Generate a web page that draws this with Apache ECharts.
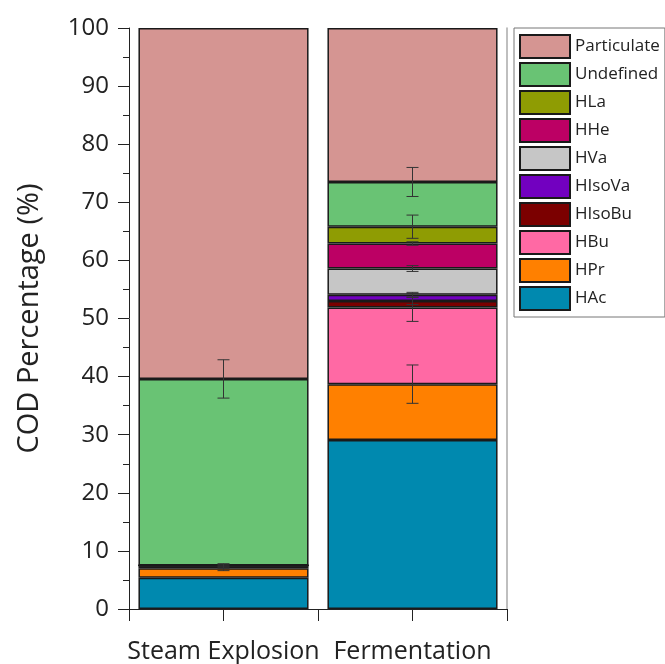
<!DOCTYPE html>
<html><head><meta charset="utf-8">
<script src="https://cdn.jsdelivr.net/npm/echarts@6/dist/echarts.min.js"></script>
<style>html,body{margin:0;padding:0;background:#fff}#c{width:665px;height:664px}</style>
</head><body><div id="c"></div>
<script>
const categories = ['Steam Explosion', 'Fermentation'];
const seriesNames = ['HAc','HPr','HBu','HIsoBu','HIsoVa','HVa','HHe','HLa','Undefined','Particulate'];
const HAc = [5.4, 29.1];
const HPr = [1.6, 9.6];
const HBu = [0.3, 13.2];
const HIsoBu = [0.2, 1.1];
const HIsoVa = [0, 1.1];
const HVa = [0, 4.5];
const HHe = [0, 4.3];
const HLa = [0, 2.9];
const Undefined = [32.1, 7.7];
const Particulate = [60.4, 26.5];
// error bar half-lengths at the top of each segment (0 = none)
const errHAc = [0, 0];
const errHPr = [0.4, 3.3];
const errHBu = [0.3, 2.4];
const errHIsoBu = [0.3, 0.6];
const errHIsoVa = [0, 0.4];
const errHVa = [0, 0.5];
const errHHe = [0, 0.3];
const errHLa = [0, 2.0];
const errUndefined = [3.3, 2.5];
const errParticulate = [0, 0];
const yTicks = [0,10,20,30,40,50,60,70,80,90,100];

const values = {HAc, HPr, HBu, HIsoBu, HIsoVa, HVa, HHe, HLa, Undefined, Particulate};
const errs = {HAc: errHAc, HPr: errHPr, HBu: errHBu, HIsoBu: errHIsoBu, HIsoVa: errHIsoVa, HVa: errHVa, HHe: errHHe, HLa: errHLa, Undefined: errUndefined, Particulate: errParticulate};
const colors = {
  HAc: '#0089AF', HPr: '#FF8000', HBu: '#FF69A4', HIsoBu: '#7B0000', HIsoVa: '#7200C0',
  HVa: '#C6C6C6', HHe: '#BC0064', HLa: '#8F9C03', Undefined: '#69C374', Particulate: '#D59592'
};

const series = [];
seriesNames.forEach(n => {
  series.push({
    name: n, type: 'bar', stack: 'total', barWidth: '90%',
    xAxisIndex: 0, yAxisIndex: 0,
    itemStyle: {color: colors[n], borderColor: '#1a1a1a', borderWidth: 1.5},
    data: values[n].slice()
  });
});
const errData = [];
const cum = [0, 0];
seriesNames.forEach(n => {
  values[n].forEach((v, i) => {
    cum[i] += v;
    if (errs[n][i] > 0) errData.push([i, cum[i], errs[n][i]]);
  });
});
series.push({
  type: 'custom', name: 'err', z: 10, silent: true,
  xAxisIndex: 0, yAxisIndex: 0,
  data: errData,
  renderItem: function (params, api) {
    const x = api.value(0), y = api.value(1), e = api.value(2);
    const hi = api.coord([x, y + e]);
    const lo = api.coord([x, y - e]);
    const w = 6;
    const st = {stroke: '#333', lineWidth: 1};
    return {type: 'group', children: [
      {type: 'line', shape: {x1: hi[0], y1: hi[1], x2: lo[0], y2: lo[1]}, style: st},
      {type: 'line', shape: {x1: hi[0]-w, y1: hi[1], x2: hi[0]+w, y2: hi[1]}, style: st},
      {type: 'line', shape: {x1: lo[0]-w, y1: lo[1], x2: lo[0]+w, y2: lo[1]}, style: st}
    ]};
  }
});

const chart = echarts.init(document.getElementById('c'));
chart.setOption({
  animation: false,
  textStyle: {fontFamily: 'Open Sans'},
  grid: {left: 129, right: 158, top: 28, bottom: 55},
  legend: {
    orient: 'vertical', left: 514, top: 28, padding: [6, 5, 6, 5],
    itemWidth: 50, itemHeight: 23, itemGap: 3,
    icon: 'rect',
    borderColor: '#777', borderWidth: 1,
    data: seriesNames.slice().reverse(),
    textStyle: {fontSize: 17, color: '#222', fontFamily: 'Open Sans'},
    selectedMode: false
  },
  xAxis: [{
    type: 'category', data: categories, boundaryGap: true,
    axisLine: {show: true, lineStyle: {color: '#222', width: 1}},
    axisTick: {show: true, length: 12, lineStyle: {color: '#222'}},
    axisLabel: {fontSize: 25, color: '#222', margin: 30, interval: 0, hideOverlap: false}
  }, {
    type: 'value', min: 0.5, max: 2.5, interval: 0.5, position: 'bottom',
    splitLine: {show: false},
    axisLine: {show: false},
    axisTick: {show: true, length: 12, lineStyle: {color: '#222'}},
    axisLabel: {show: false}
  }],
  yAxis: [{
    type: 'value', min: 0, max: 100, interval: 10,
    name: 'COD Percentage (%)', nameLocation: 'middle', nameGap: 85,
    nameTextStyle: {fontSize: 29, color: '#222'},
    splitLine: {show: false},
    axisLine: {show: true, lineStyle: {color: '#222', width: 1}},
    axisTick: {show: true, length: 11, lineStyle: {color: '#222'}},
    minorTick: {show: true, splitNumber: 2, length: 6, lineStyle: {color: '#222'}},
    axisLabel: {fontSize: 24, color: '#222', margin: 20, formatter: v => yTicks.includes(v) ? String(v) : ''}
  }, {
    type: 'value', min: 0, max: 100, position: 'right',
    splitLine: {show: false},
    axisLine: {show: true, lineStyle: {color: '#aaa', width: 1.5}},
    axisTick: {show: false}, axisLabel: {show: false}
  }],
  series: series
});
</script></body></html>
